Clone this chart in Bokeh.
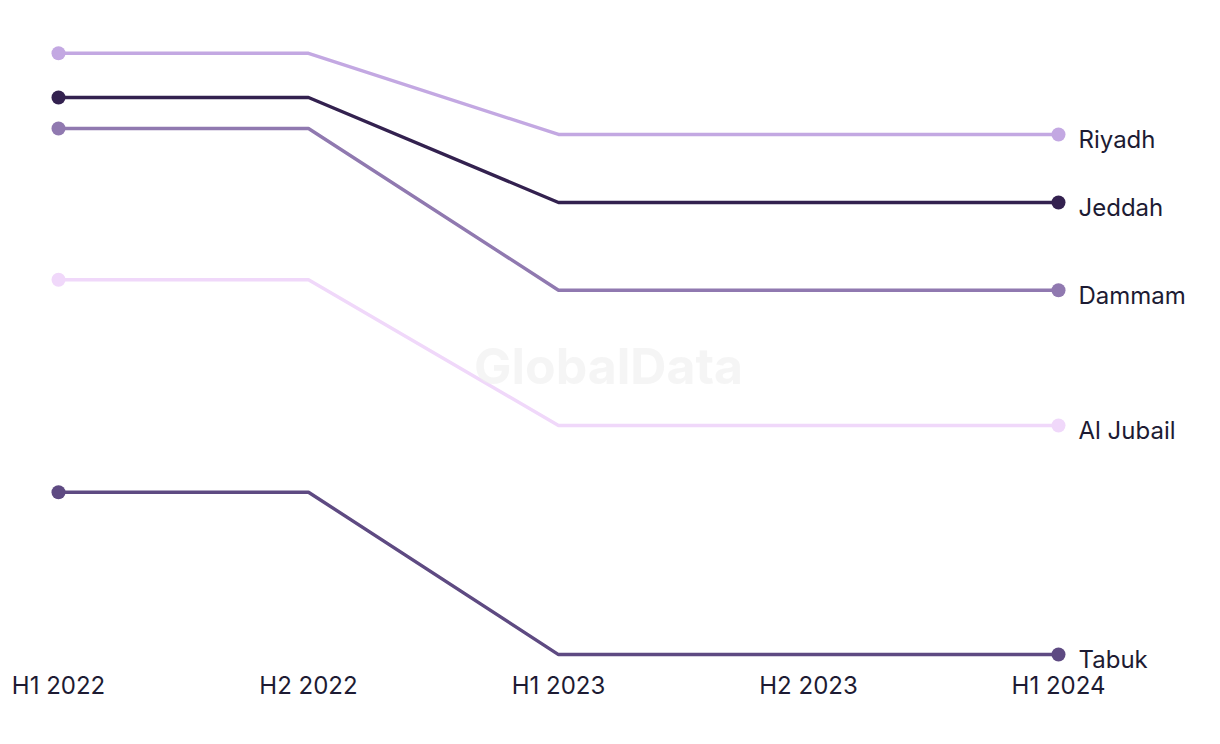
from bokeh.plotting import figure
from bokeh.models import ColumnDataSource, Label, LabelSet
from bokeh.core.properties import value
from bokeh.embed import file_html
from bokeh.resources import INLINE

periods = ["H1 2022", "H2 2022", "H1 2023", "H2 2023", "H1 2024"]
cities = ["Riyadh", "Jeddah", "Dammam", "Al Jubail", "Tabuk"]
riyadh = [93.2, 93.2, 80.9, 80.9, 80.9]
jeddah = [86.5, 86.5, 70.6, 70.6, 70.6]
dammam = [81.8, 81.8, 57.3, 57.3, 57.3]
al_jubail = [58.9, 58.9, 36.8, 36.8, 36.8]
tabuk = [26.7, 26.7, 2.1, 2.1, 2.1]
colors = ["#C3A8E2", "#33214F", "#9079B0", "#F0D8FA", "#5E4A82"]
series = [riyadh, jeddah, dammam, al_jubail, tabuk]

FONT = "Inter"
TEXT = "#1D1B33"

xs = list(range(len(periods)))

p = figure(width=1204, height=728, output_backend="svg", toolbar_location=None,
           x_range=(-0.232, 4.584), y_range=(-1.527, 101.2),
           min_border_left=0, min_border_right=0, min_border_top=0, min_border_bottom=50)
p.outline_line_color = None
p.background_fill_color = "white"
p.border_fill_color = "white"
p.grid.grid_line_color = None
p.yaxis.visible = False

p.xaxis.ticker = xs
p.xaxis.major_label_overrides = {i: lab for i, lab in enumerate(periods)}
p.xaxis.axis_line_color = None
p.xaxis.major_tick_line_color = None
p.xaxis.minor_tick_line_color = None
p.xaxis.major_tick_out = 0
p.xaxis.major_tick_in = 0
p.xaxis.major_label_standoff = -8
p.xaxis.major_label_text_font = FONT
p.xaxis.major_label_text_font_size = "24px"
p.xaxis.major_label_text_color = TEXT

wm = Label(x=2.2, y=45.8, text="GlobalData", text_align="center", text_baseline="middle",
           text_font=FONT, text_font_size="50px", text_font_style="bold",
           text_color="#EEEEEE", text_alpha=0.6)
p.add_layout(wm)

for name, vals, col in zip(cities, series, colors):
    p.line(xs, vals, line_color=col, line_width=3.4)
    src = ColumnDataSource(dict(x=[xs[0], xs[-1]], y=[vals[0], vals[-1]]))
    p.scatter("x", "y", source=src, size=14, fill_color=col, line_color=None)

lab_src = ColumnDataSource(dict(x=[xs[-1]] * len(cities), y=[s[-1] for s in series], t=cities))
labels = LabelSet(x="x", y="y", text="t", source=lab_src, x_offset=20, y_offset=-5,
                  text_font=value(FONT), text_font_size=value("24px"), text_color=TEXT,
                  text_baseline="middle", text_align="left")
p.add_layout(labels)

open("out.html", "w").write(file_html(p, INLINE))
